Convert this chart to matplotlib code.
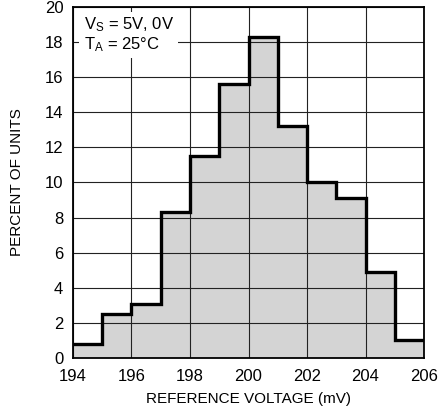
import matplotlib
matplotlib.use("Agg")
import matplotlib.pyplot as plt
import numpy as np

# Distribution of reference voltage across units (1 mV bins)
bin_edges = [194, 195, 196, 197, 198, 199, 200, 201, 202, 203, 204, 205, 206]
percent_units = [0.8, 2.5, 3.1, 8.3, 11.5, 15.6, 18.3, 13.2, 10.0, 9.1, 4.9, 1.0]
x_ticks = [194, 196, 198, 200, 202, 204, 206]
y_ticks = [0, 2, 4, 6, 8, 10, 12, 14, 16, 18, 20]

plt.rcParams['font.family'] = ['Liberation Sans', 'DejaVu Sans']

fig = plt.figure(figsize=(4.41, 4.19), dpi=100)
ax = fig.add_axes([0.1655, 0.1456, 0.7960, 0.8377])

ax.stairs(percent_units, bin_edges, fill=True, color='#d4d4d4', zorder=1)
ax.set_axisbelow(False)
ax.grid(True, color='#222222', linewidth=0.8, zorder=2)
ax.stairs(percent_units, bin_edges, baseline=None, color='black', linewidth=2.4, zorder=3)

ax.set_xlim(194, 206)
ax.set_ylim(0, 20)
ax.set_xticks(x_ticks)
ax.set_yticks(y_ticks)
ax.tick_params(length=0, labelsize=12)
ax.tick_params(axis='x', pad=8)
ax.tick_params(axis='y', pad=7)
for s in ax.spines.values():
    s.set_linewidth(1.3)
    s.set_zorder(4)

ax.set_xlabel('REFERENCE VOLTAGE (mV)', fontsize=11, labelpad=6)
ax.set_ylabel('PERCENT OF UNITS', fontsize=11, labelpad=15)

ax.text(0.03, 0.975, '$\\mathregular{V_S}$ = 5V, 0V\n$\\mathregular{T_A}$ = 25°C',
        transform=ax.transAxes, ha='left', va='top', fontsize=12,
        linespacing=1.05, zorder=5,
        bbox=dict(facecolor='white', edgecolor='none', pad=3))

fig.savefig('out.png', dpi=100)
